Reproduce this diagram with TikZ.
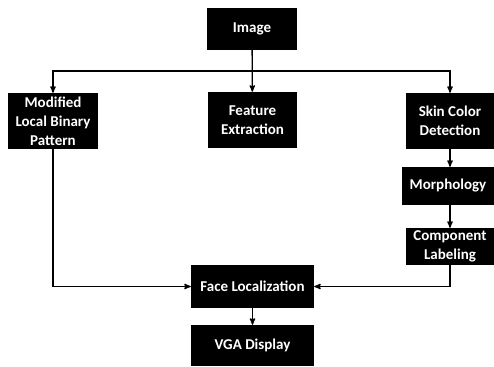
\documentclass[tikz,border=0pt]{standalone}
\usepackage{fontspec}
\setmainfont{Carlito}
\usetikzlibrary{arrows}
\begin{document}
\begin{tikzpicture}
        [x=1pt,y=-1pt,
        block/.style={rectangle,fill=black,text=white,font=\bfseries\fontsize{15}{19}\selectfont,
          align=center,inner sep=0pt},
        arr/.style={->,>=stealth',line width=1.3pt}]
        \useasboundingbox (0,0) rectangle (494,366);
        \node (img) at (252,29) [block,minimum width=90pt,minimum height=42pt] {Image};
        \node (mlbp) at (53,121) [block,minimum width=90pt,minimum height=56pt] {Modified\\Local Binary\\Pattern};
        \node (feat) at (252.5,120) [block,minimum width=89pt,minimum height=56pt] {Feature\\Extraction};
        \node (skin) at (450,121) [block,minimum width=88pt,minimum height=56pt] {Skin Color\\Detection};
        \node (morph) at (448,186) [block,minimum width=92pt,minimum height=38pt] {Morphology};
        \node (comp) at (450,246.5) [block,minimum width=88pt,minimum height=37pt] {Component\\Labeling};
        \node (face) at (252.5,286.5) [block,minimum width=123pt,minimum height=43pt] {Face Localization};
        \node (vga) at (252.5,345.5) [block,minimum width=123pt,minimum height=41pt] {VGA Display};
        \coordinate (split) at (252.5,71);
        \draw[arr] (img) -- (feat);
        \draw[arr] (split) -| (mlbp.north);
        \draw[arr] (split) -| (skin.north);
        \draw[arr] (skin) -- (skin|-morph.north);
        \draw[arr] (comp|-morph.south) -- (comp);
        \draw[arr] (mlbp.south) |- (face);
        \draw[arr] (comp.south) |- (face);
        \draw[arr] (face) -- (vga);
     \end{tikzpicture}
\end{document}
